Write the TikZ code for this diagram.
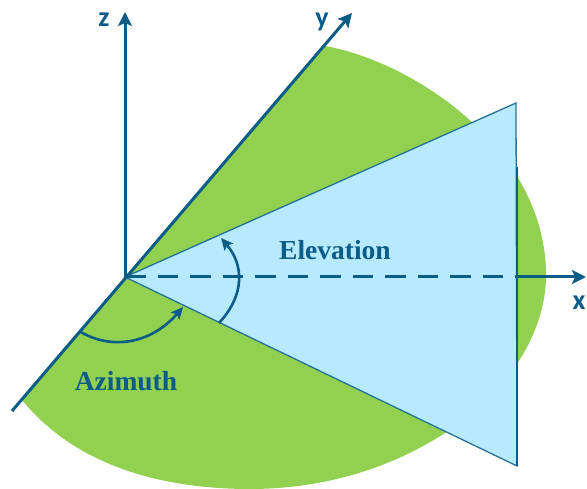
\documentclass[tikz,border=0pt]{standalone}
\usepackage{fontspec}
\setmainfont{Liberation Serif}
\setsansfont{Carlito}
\usetikzlibrary{arrows.meta}
\definecolor{grn}{HTML}{92D050}
\definecolor{blu}{HTML}{B7EAFF}
\definecolor{ink}{HTML}{0B5C86}
\tikzset{
  px/.style={x=1pt,y=-1pt},
  axisline/.style={draw=ink,line width=3pt,-{Stealth[length=14pt,width=14pt,inset=3pt]}},
  arcline/.style={draw=ink,line width=2.6pt,-{Stealth[length=12pt,width=11pt,inset=2.5pt]}},
  axlabel/.style={text=ink,font=\sffamily\bfseries\fontsize{28}{28}\selectfont,inner sep=0pt},
  anglabel/.style={text=ink,font=\bfseries\fontsize{27.5}{27.5}\selectfont,inner sep=0pt},
}
\begin{document}
\begin{tikzpicture}[px]
\useasboundingbox (0,0) rectangle (587,489);
\coordinate (O) at (125,277);
\coordinate (ytop) at (352,13);
\coordinate (ybot) at (12,411);
\coordinate (ztop) at (125,12);
\coordinate (xend) at (586,277);
\coordinate (A) at (516,103);
\coordinate (B) at (517,466);
\fill[grn] (O) -- (325,46)
  .. controls (415,62) and (546,150) .. (546,275)
  .. controls (546,335) and (505,395) .. (445,433)
  .. controls (380,475) and (310,489) .. (250,489)
  .. controls (160,489) and (75,465) .. (22,400) -- cycle;
\filldraw[fill=blu,draw=ink!85!blu,line width=1.3pt,line join=miter] (O) -- (A) -- (B) -- cycle;
\draw[ink,line width=2pt] (517,167) -- (517,466);
\draw[axisline] (O) -- (ztop);
\draw[axisline] (ybot) -- (ytop);
\draw[draw=ink,line width=3pt,dash pattern=on 20.5pt off 12pt] (O) -- (516,277);
\draw[axisline] (516,277) -- (xend);
\draw[arcline] (219,323) .. controls (245,295) and (244,265) .. (221,238);
\draw[arcline] (79,331) .. controls (110,350) and (150,345) .. (183,307);
\node[axlabel,anchor=base] (zl) at (104,27) {z};
\node[axlabel,anchor=base] (yl) at (322,27) {y};
\node[axlabel,anchor=base] (xl) at (579,310) {x};
\node[anglabel,anchor=base] (el) at (335,260) {Elevation};
\node[anglabel,anchor=base] (az) at (126,390) {Azimuth};
\end{tikzpicture}
\end{document}
